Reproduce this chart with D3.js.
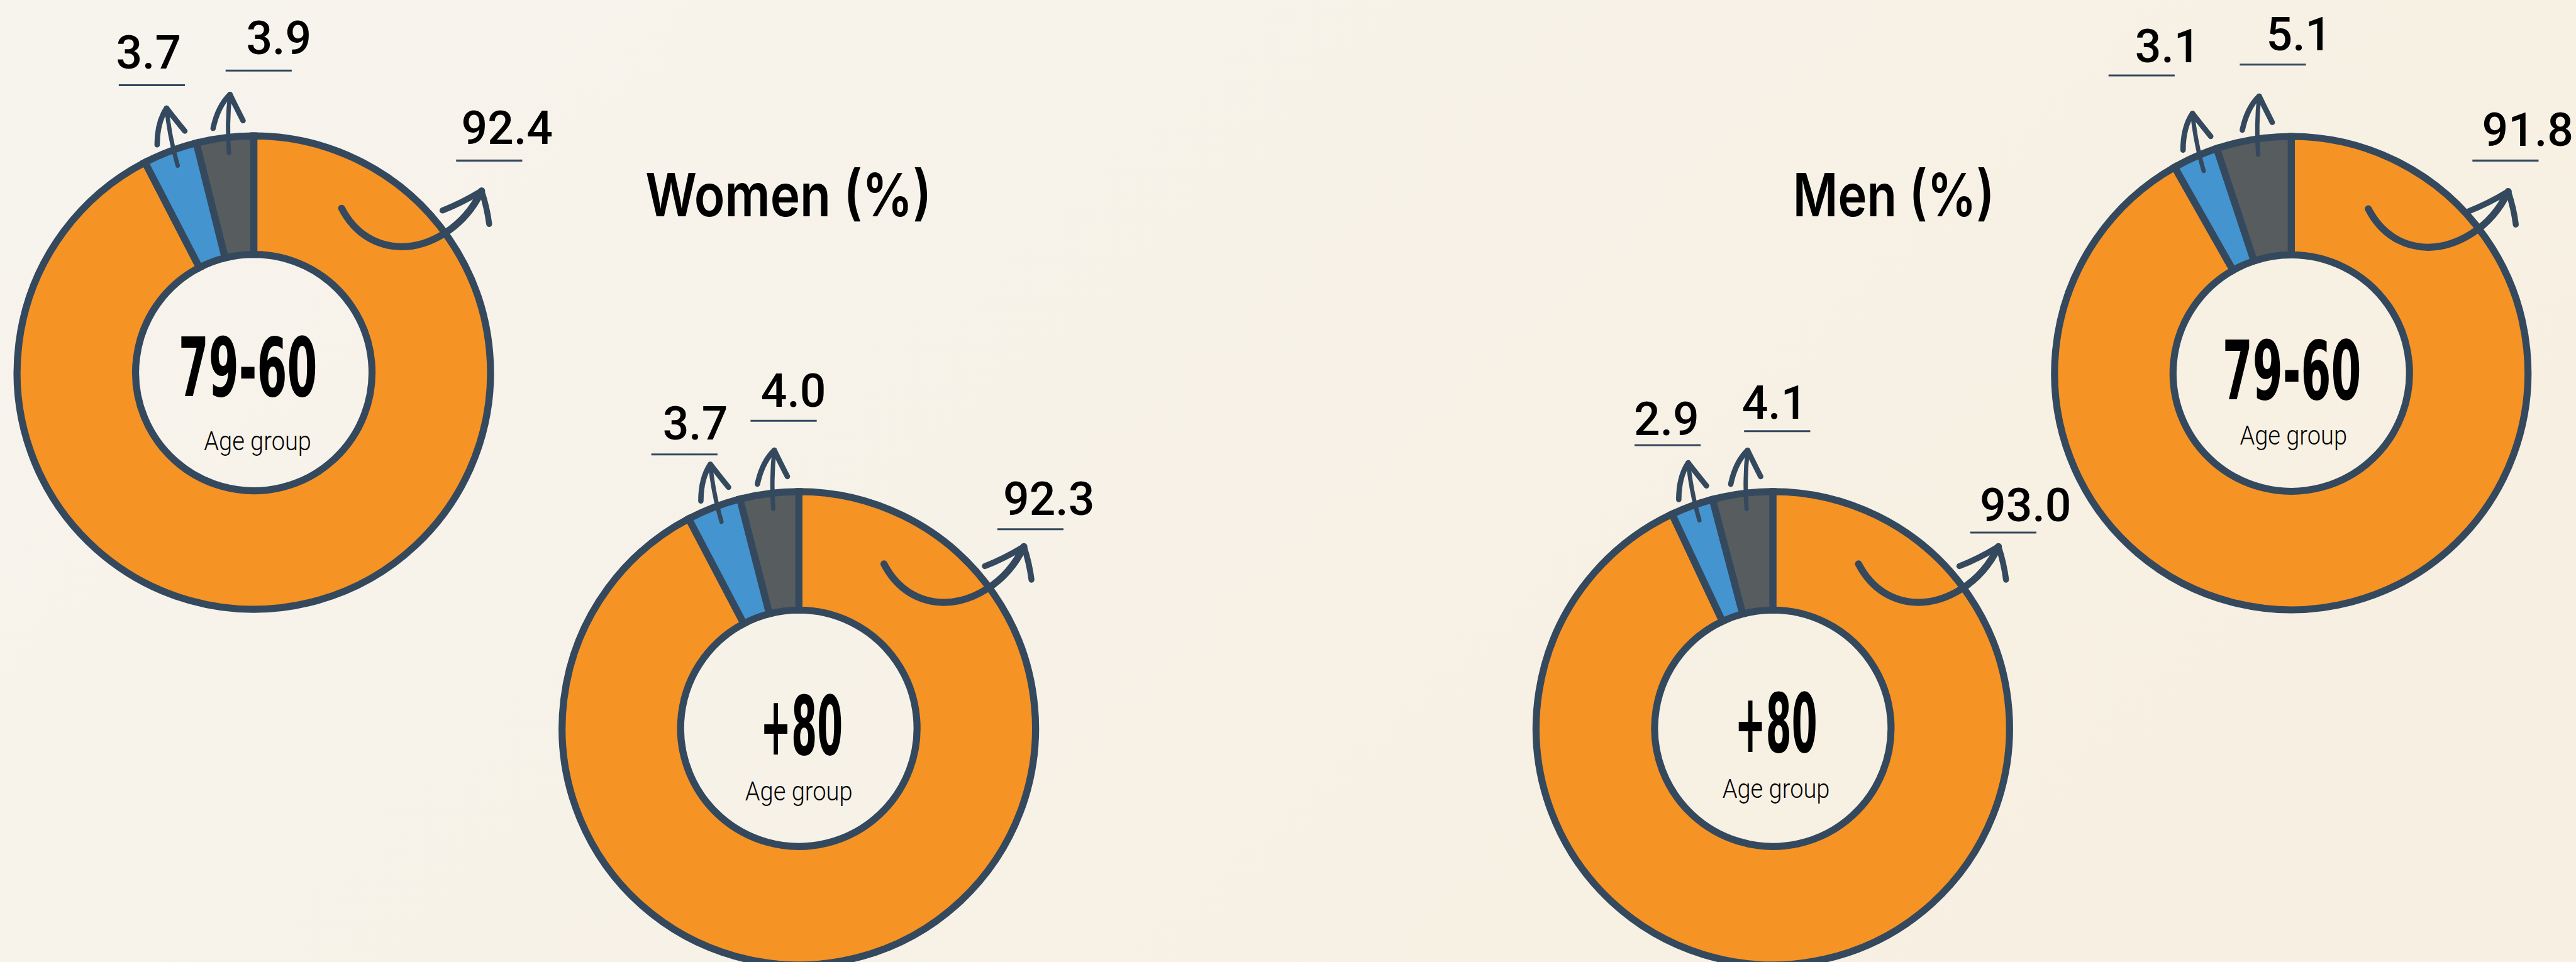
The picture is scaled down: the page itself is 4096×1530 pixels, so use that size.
<!DOCTYPE html>
<html>
<head>
<meta charset="utf-8">
<style>
  html, body { margin: 0; padding: 0; overflow: hidden; background: #f7f3eb; }
  svg { display: block; }
</style>
</head>
<body>
<svg id="chart"></svg>
<script src="https://cdn.jsdelivr.net/npm/d3@7"></script>
<script>
// data
var segments = ["orange", "blue", "grey"];
var ageGroups = ["79-60", "+80"];
var womenOrange = [92.4, 92.3];
var womenBlue = [3.7, 3.7];
var womenGrey = [3.9, 4.0];
var menOrange = [91.8, 93.0];
var menBlue = [3.1, 2.9];
var menGrey = [5.1, 4.1];
var titles = ["Women (%)", "Men (%)"];
var subLabel = "Age group";

// drawing is done in the reference's pixel space, then scaled by the viewBox
var W = 4750, H = 1774;
var svg = d3.select("#chart")
  .attr("width", 4096)
  .attr("height", 1530)
  .attr("viewBox", "0 0 " + W + " " + H);

var ink = "#34495e";
var colors = {orange: "#f59325", blue: "#4494d0", grey: "#575c5e"};

var defs = svg.append("defs");
var grad = defs.append("linearGradient").attr("id", "bg")
  .attr("x1", 0).attr("y1", 0).attr("x2", 1).attr("y2", 0.4);
grad.append("stop").attr("offset", 0).attr("stop-color", "#f7f4ee");
grad.append("stop").attr("offset", 1).attr("stop-color", "#f7f0e2");
svg.append("rect").attr("width", W).attr("height", H).attr("fill", "url(#bg)");

// where each donut sits, and where its hand placed labels go (relative to centre)
// labels: [textX, baseline, underlineX, underlineY] for orange, blue, grey
var layout = [
  {sex: "women", i: 0, cx: 468,  cy: 687,  tdx: -11, tdy: 44, adx: 7, ady: 143, curveDx: 2,
   labels: [[467, -422, 434, -391], [-194, -561, -188, -530], [46, -588, 9, -557]]},
  {sex: "women", i: 1, cx: 1473, cy: 1343, tdx: 5, tdy: 49, adx: 0, ady: 133, curveDx: -3,
   labels: [[461, -393, 427, -367], [-191, -532, -211, -505], [-10, -593, -28, -567]]},
  {sex: "men", i: 1, cx: 3269, cy: 1343, tdx: 6, tdy: 44, adx: 6, ady: 128, curveDx: -2,
   labels: [[466, -382, 425, -361], [-196, -541, -194, -522], [3, -571, 8, -548]]},
  {sex: "men", i: 0, cx: 4225, cy: 688, tdx: 1, tdy: 48, adx: 4, ady: 132, curveDx: -18,
   labels: [[436, -419, 395, -392], [-228, -573, -276, -549], [14, -595, -34, -569]]}
];

function valuesFor(sex, i) {
  if (sex === "women") return [womenOrange[i], womenBlue[i], womenGrey[i]];
  return [menOrange[i], menBlue[i], menGrey[i]];
}

var pie = d3.pie().sort(null).value(function(d) { return d.value; });
var arc = d3.arc().innerRadius(218).outerRadius(436.5);
var fmt = d3.format(".1f");

// little hand drawn arrow pointing up, base at origin
function smallArrow(g, x, y, tilt) {
  var a = g.append("g")
    .attr("transform", "translate(" + x + "," + y + ") rotate(" + tilt + ")")
    .attr("fill", "none")
    .attr("stroke", ink)
    .attr("stroke-linecap", "round");
  a.append("path").attr("d", "M0,0 Q-5,-54 0,-108").attr("stroke-width", 8);
  a.append("path").attr("d", "M0,-108 Q-22,-86 -30,-45").attr("stroke-width", 10);
  a.append("path").attr("d", "M0,-108 Q11,-86 25,-60").attr("stroke-width", 10);
}

function curvedArrow(g, dx) {
  var a = g.append("g")
    .attr("transform", "translate(" + dx + ",0)")
    .attr("fill", "none")
    .attr("stroke", ink)
    .attr("stroke-linecap", "round")
    .attr("stroke-linejoin", "round");
  a.append("path")
    .attr("d", "M160,-303 C185,-255 225,-233 270,-232 C320,-232 385,-265 418,-335")
    .attr("stroke-width", 13);
  a.append("path").attr("d", "M418,-335 Q380,-312 346,-299").attr("stroke-width", 11);
  a.append("path").attr("d", "M418,-335 Q428,-305 432,-274").attr("stroke-width", 11);
}

layout.forEach(function(L) {
  var vals = valuesFor(L.sex, L.i);
  var data = segments.map(function(s, k) { return {key: s, value: vals[k]}; });
  var arcs = pie(data);

  var g = svg.append("g").attr("transform", "translate(" + L.cx + "," + L.cy + ")");

  g.selectAll("path.slice")
    .data(arcs)
    .enter()
    .append("path")
    .attr("class", "slice")
    .attr("d", arc)
    .attr("fill", function(d) { return colors[d.data.key]; })
    .attr("stroke", ink)
    .attr("stroke-width", 13);

  // arrows from the two thin slices
  arcs.forEach(function(d) {
    if (d.data.key === "orange") return;
    var mid = (d.startAngle + d.endAngle) / 2;
    var r = 408;
    var tilt = d.data.key === "blue" ? -11 : 1;
    smallArrow(g, r * Math.sin(mid) + 4, -r * Math.cos(mid), tilt);
  });
  curvedArrow(g, L.curveDx);

  // value labels with their underline
  arcs.forEach(function(d, k) {
    var p = L.labels[k];
    g.append("text")
      .attr("x", p[0])
      .attr("y", p[1])
      .attr("text-anchor", "middle")
      .style("font-family", "Roboto, 'Open Sans', sans-serif")
      .style("font-weight", 500)
      .style("font-size", "85px")
      .style("fill", "#000")
      .text(fmt(d.data.value));
    g.append("line")
      .attr("x1", p[2] - 61)
      .attr("x2", p[2] + 61)
      .attr("y1", p[3])
      .attr("y2", p[3])
      .attr("stroke", ink)
      .attr("stroke-width", 3.5);
  });

  // centre labels
  var age = ageGroups[L.i];
  g.append("text")
    .attr("x", L.tdx)
    .attr("y", L.tdy)
    .attr("text-anchor", "middle")
    .attr("textLength", age === "+80" ? 152 : 256)
    .attr("lengthAdjust", "spacingAndGlyphs")
    .style("font-family", "'Liberation Sans Narrow', 'DejaVu Sans Condensed', Roboto, sans-serif")
    .style("font-weight", 700)
    .style("font-size", "150px")
    .style("fill", "#000")
    .text(age);
  g.append("text")
    .attr("x", L.adx)
    .attr("y", L.ady)
    .attr("text-anchor", "middle")
    .attr("textLength", 198)
    .attr("lengthAdjust", "spacingAndGlyphs")
    .style("font-family", "Roboto, sans-serif")
    .style("font-weight", 300)
    .style("font-size", "50px")
    .style("fill", "#000")
    .text(subLabel);
});

// titles
var titleX = [1454, 3492];
var titleLen = [528, 372];
titles.forEach(function(t, k) {
  svg.append("text")
    .attr("x", titleX[k])
    .attr("y", 399)
    .attr("text-anchor", "middle")
    .attr("textLength", titleLen[k])
    .attr("lengthAdjust", "spacingAndGlyphs")
    .style("font-family", "Inter, Roboto, sans-serif")
    .style("font-weight", 600)
    .style("font-size", "110px")
    .style("fill", "#000")
    .text(t);
});
</script>
</body>
</html>
